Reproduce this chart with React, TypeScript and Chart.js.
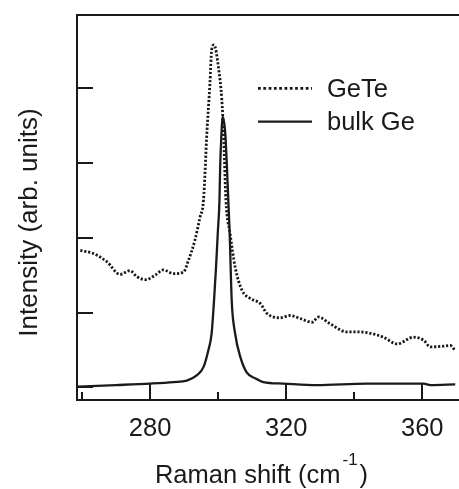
import React, { useEffect, useRef } from 'react';
import { Chart, registerables } from 'chart.js';

Chart.register(...registerables);

// ---- data ----
const seriesNames = ['GeTe', 'bulk Ge'];

const geteX = [259.5, 263.3, 267.3, 271.2, 274.1, 276.1, 278.8, 281.5, 283.9, 286.9, 289.8, 291.3, 293.2, 294.7, 295.7, 296.7, 297.6, 298.1, 298.8, 300.1, 301.1, 301.6, 302.3, 303.5, 305.0, 307.0, 309.4, 312.4, 314.3, 318.2, 321.2, 324.1, 327.6, 329.5, 332.9, 337.9, 341.8, 346.7, 348.6, 352.6, 357.4, 360.4, 362.4, 366.3, 368.2, 369.7];
const geteY = [1.83, 1.79, 1.68, 1.51, 1.56, 1.48, 1.44, 1.50, 1.57, 1.52, 1.54, 1.70, 1.97, 2.28, 2.50, 3.40, 4.07, 4.51, 4.58, 4.28, 3.84, 3.40, 2.50, 2.06, 1.61, 1.30, 1.19, 1.12, 0.99, 0.93, 0.96, 0.92, 0.87, 0.94, 0.85, 0.74, 0.74, 0.70, 0.67, 0.58, 0.67, 0.63, 0.54, 0.55, 0.56, 0.49];

const bulkX = [258.8, 270, 280, 286.9, 290.8, 293.7, 295.7, 297.1, 298.1, 298.8, 299.4, 299.9, 300.4, 300.6, 301.0, 301.3, 302.1, 302.6, 303.0, 303.4, 304.0, 305.0, 306.5, 308.4, 310.9, 313.3, 319.2, 329.0, 343.7, 360.4, 362.4, 369.7];
const bulkY = [0.01, 0.03, 0.05, 0.07, 0.09, 0.16, 0.27, 0.49, 0.72, 1.16, 1.61, 2.06, 2.50, 2.94, 3.40, 3.62, 3.40, 2.94, 2.50, 2.06, 1.16, 0.72, 0.41, 0.20, 0.12, 0.07, 0.05, 0.03, 0.05, 0.05, 0.03, 0.04];

const xTicks = [260, 280, 300, 320, 340, 360];
const xLabeledTicks = [280, 320, 360];
const yTicks = [0, 1, 2, 3, 4];

const xTitleMain = 'Raman shift (cm';
const xTitleSup = '-1';
const xTitleEnd = ')';
const yTitle = 'Intensity (arb. units)';

const X_MIN = 258.53;
const X_MAX = 370.8;
const Y_MIN = -0.17;
const Y_MAX = 4.98;

const INK = '#1a1a1a';
const FONT = '"Liberation Sans", Arial, Helvetica, sans-serif';
const DOT_DASH = [2.2, 1.8];
const LEGEND_DOT_DASH = [2.8, 2.5];

const decorations = {
  id: 'decorations',
  afterDraw(chart: any) {
    const { ctx, chartArea, scales } = chart;
    const xs = scales.x;
    const ys = scales.y;
    ctx.save();
    ctx.strokeStyle = INK;
    ctx.fillStyle = INK;
    ctx.lineWidth = 2;
    ctx.setLineDash([]);
    // top frame line
    ctx.beginPath();
    ctx.moveTo(chartArea.left - 1, chartArea.top);
    ctx.lineTo(chart.width, chartArea.top);
    ctx.stroke();
    // x ticks (inward)
    xTicks.forEach((v) => {
      const px = Math.round(xs.getPixelForValue(v));
      const len = xLabeledTicks.includes(v) ? 16 : 8;
      ctx.beginPath();
      ctx.moveTo(px, chartArea.bottom);
      ctx.lineTo(px, chartArea.bottom - len);
      ctx.stroke();
    });
    // y ticks (inward)
    yTicks.forEach((v) => {
      const py = Math.round(ys.getPixelForValue(v));
      ctx.beginPath();
      ctx.moveTo(chartArea.left, py);
      ctx.lineTo(chartArea.left + 16, py);
      ctx.stroke();
    });

    // x title with superscript
    ctx.textBaseline = 'alphabetic';
    ctx.textAlign = 'left';
    const mainFont = `25.5px ${FONT}`;
    const supFont = `17px ${FONT}`;
    ctx.font = mainFont;
    const w1 = ctx.measureText(xTitleMain).width;
    const w3 = ctx.measureText(xTitleEnd).width;
    ctx.font = supFont;
    const w2 = ctx.measureText(xTitleSup).width;
    const gap = 2;
    const total = w1 + gap + w2 + gap + w3;
    const cx = 261.5;
    const x0 = cx - total / 2;
    const base = 483;
    ctx.font = mainFont;
    ctx.fillText(xTitleMain, x0, base);
    ctx.font = supFont;
    ctx.fillText(xTitleSup, x0 + w1 + gap, base - 18);
    ctx.font = mainFont;
    ctx.fillText(xTitleEnd, x0 + w1 + gap + w2 + gap, base);

    // y title
    ctx.save();
    ctx.translate(37, 222.5);
    ctx.rotate(-Math.PI / 2);
    ctx.font = `26px ${FONT}`;
    ctx.textAlign = 'center';
    ctx.textBaseline = 'alphabetic';
    ctx.fillText(yTitle, 0, 0);
    ctx.restore();

    // legend
    const legendRows = [
      { name: seriesNames[0], dash: LEGEND_DOT_DASH, width: 2.8, lineY: 88.3, textY: 97 },
      { name: seriesNames[1], dash: [], width: 2.3, lineY: 121.7, textY: 130 },
    ];
    legendRows.forEach((r) => {
      ctx.lineWidth = r.width;
      ctx.setLineDash(r.dash);
      ctx.beginPath();
      ctx.moveTo(258, r.lineY);
      ctx.lineTo(312, r.lineY);
      ctx.stroke();
      ctx.setLineDash([]);
      ctx.font = mainFont;
      ctx.textAlign = 'left';
      ctx.fillText(r.name, 327, r.textY);
    });
    ctx.restore();
  },
};

export default function App() {
  const ref = useRef<HTMLCanvasElement | null>(null);

  useEffect(() => {
    if (!ref.current) return;
    const chart = new Chart(ref.current, {
      type: 'line',
      data: {
        datasets: [
          {
            label: seriesNames[0],
            data: geteX.map((x, i) => ({ x, y: geteY[i] })),
            borderColor: INK,
            borderWidth: 2.8,
            borderDash: DOT_DASH,
            pointRadius: 0,
            cubicInterpolationMode: 'monotone',
            fill: false,
          },
          {
            label: seriesNames[1],
            data: bulkX.map((x, i) => ({ x, y: bulkY[i] })),
            borderColor: INK,
            borderWidth: 2.3,
            pointRadius: 0,
            cubicInterpolationMode: 'monotone',
            fill: false,
          },
        ],
      },
      options: {
        animation: false,
        responsive: false,
        maintainAspectRatio: false,
        layout: { padding: { top: 15, right: 0, left: 0, bottom: 0 } },
        plugins: {
          legend: { display: false },
          tooltip: { enabled: false },
        },
        scales: {
          x: {
            type: 'linear',
            min: X_MIN,
            max: X_MAX,
            afterBuildTicks: (s: any) => {
              s.ticks = xTicks.map((v) => ({ value: v }));
            },
            afterFit: (s: any) => {
              s.height = 89;
            },
            grid: { display: false, drawTicks: false },
            border: { display: true, width: 2, color: INK },
            ticks: {
              autoSkip: false,
              maxRotation: 0,
              padding: 14,
              color: INK,
              font: { family: FONT, size: 25.5 },
              callback: (v: any) => (xLabeledTicks.includes(Number(v)) ? String(v) : ''),
            },
          },
          y: {
            type: 'linear',
            min: Y_MIN,
            max: Y_MAX,
            afterFit: (s: any) => {
              s.width = 77;
            },
            grid: { display: false, drawTicks: false },
            border: { display: true, width: 2, color: INK },
            ticks: { display: false },
          },
        },
      },
      plugins: [decorations],
    } as any);
    return () => chart.destroy();
  }, []);

  return (
    <div style={{ position: 'absolute', left: 0, top: 0, width: 459, height: 489, background: '#fff' }}>
      <canvas ref={ref} width={459} height={489} style={{ display: 'block' }} />
    </div>
  );
}
